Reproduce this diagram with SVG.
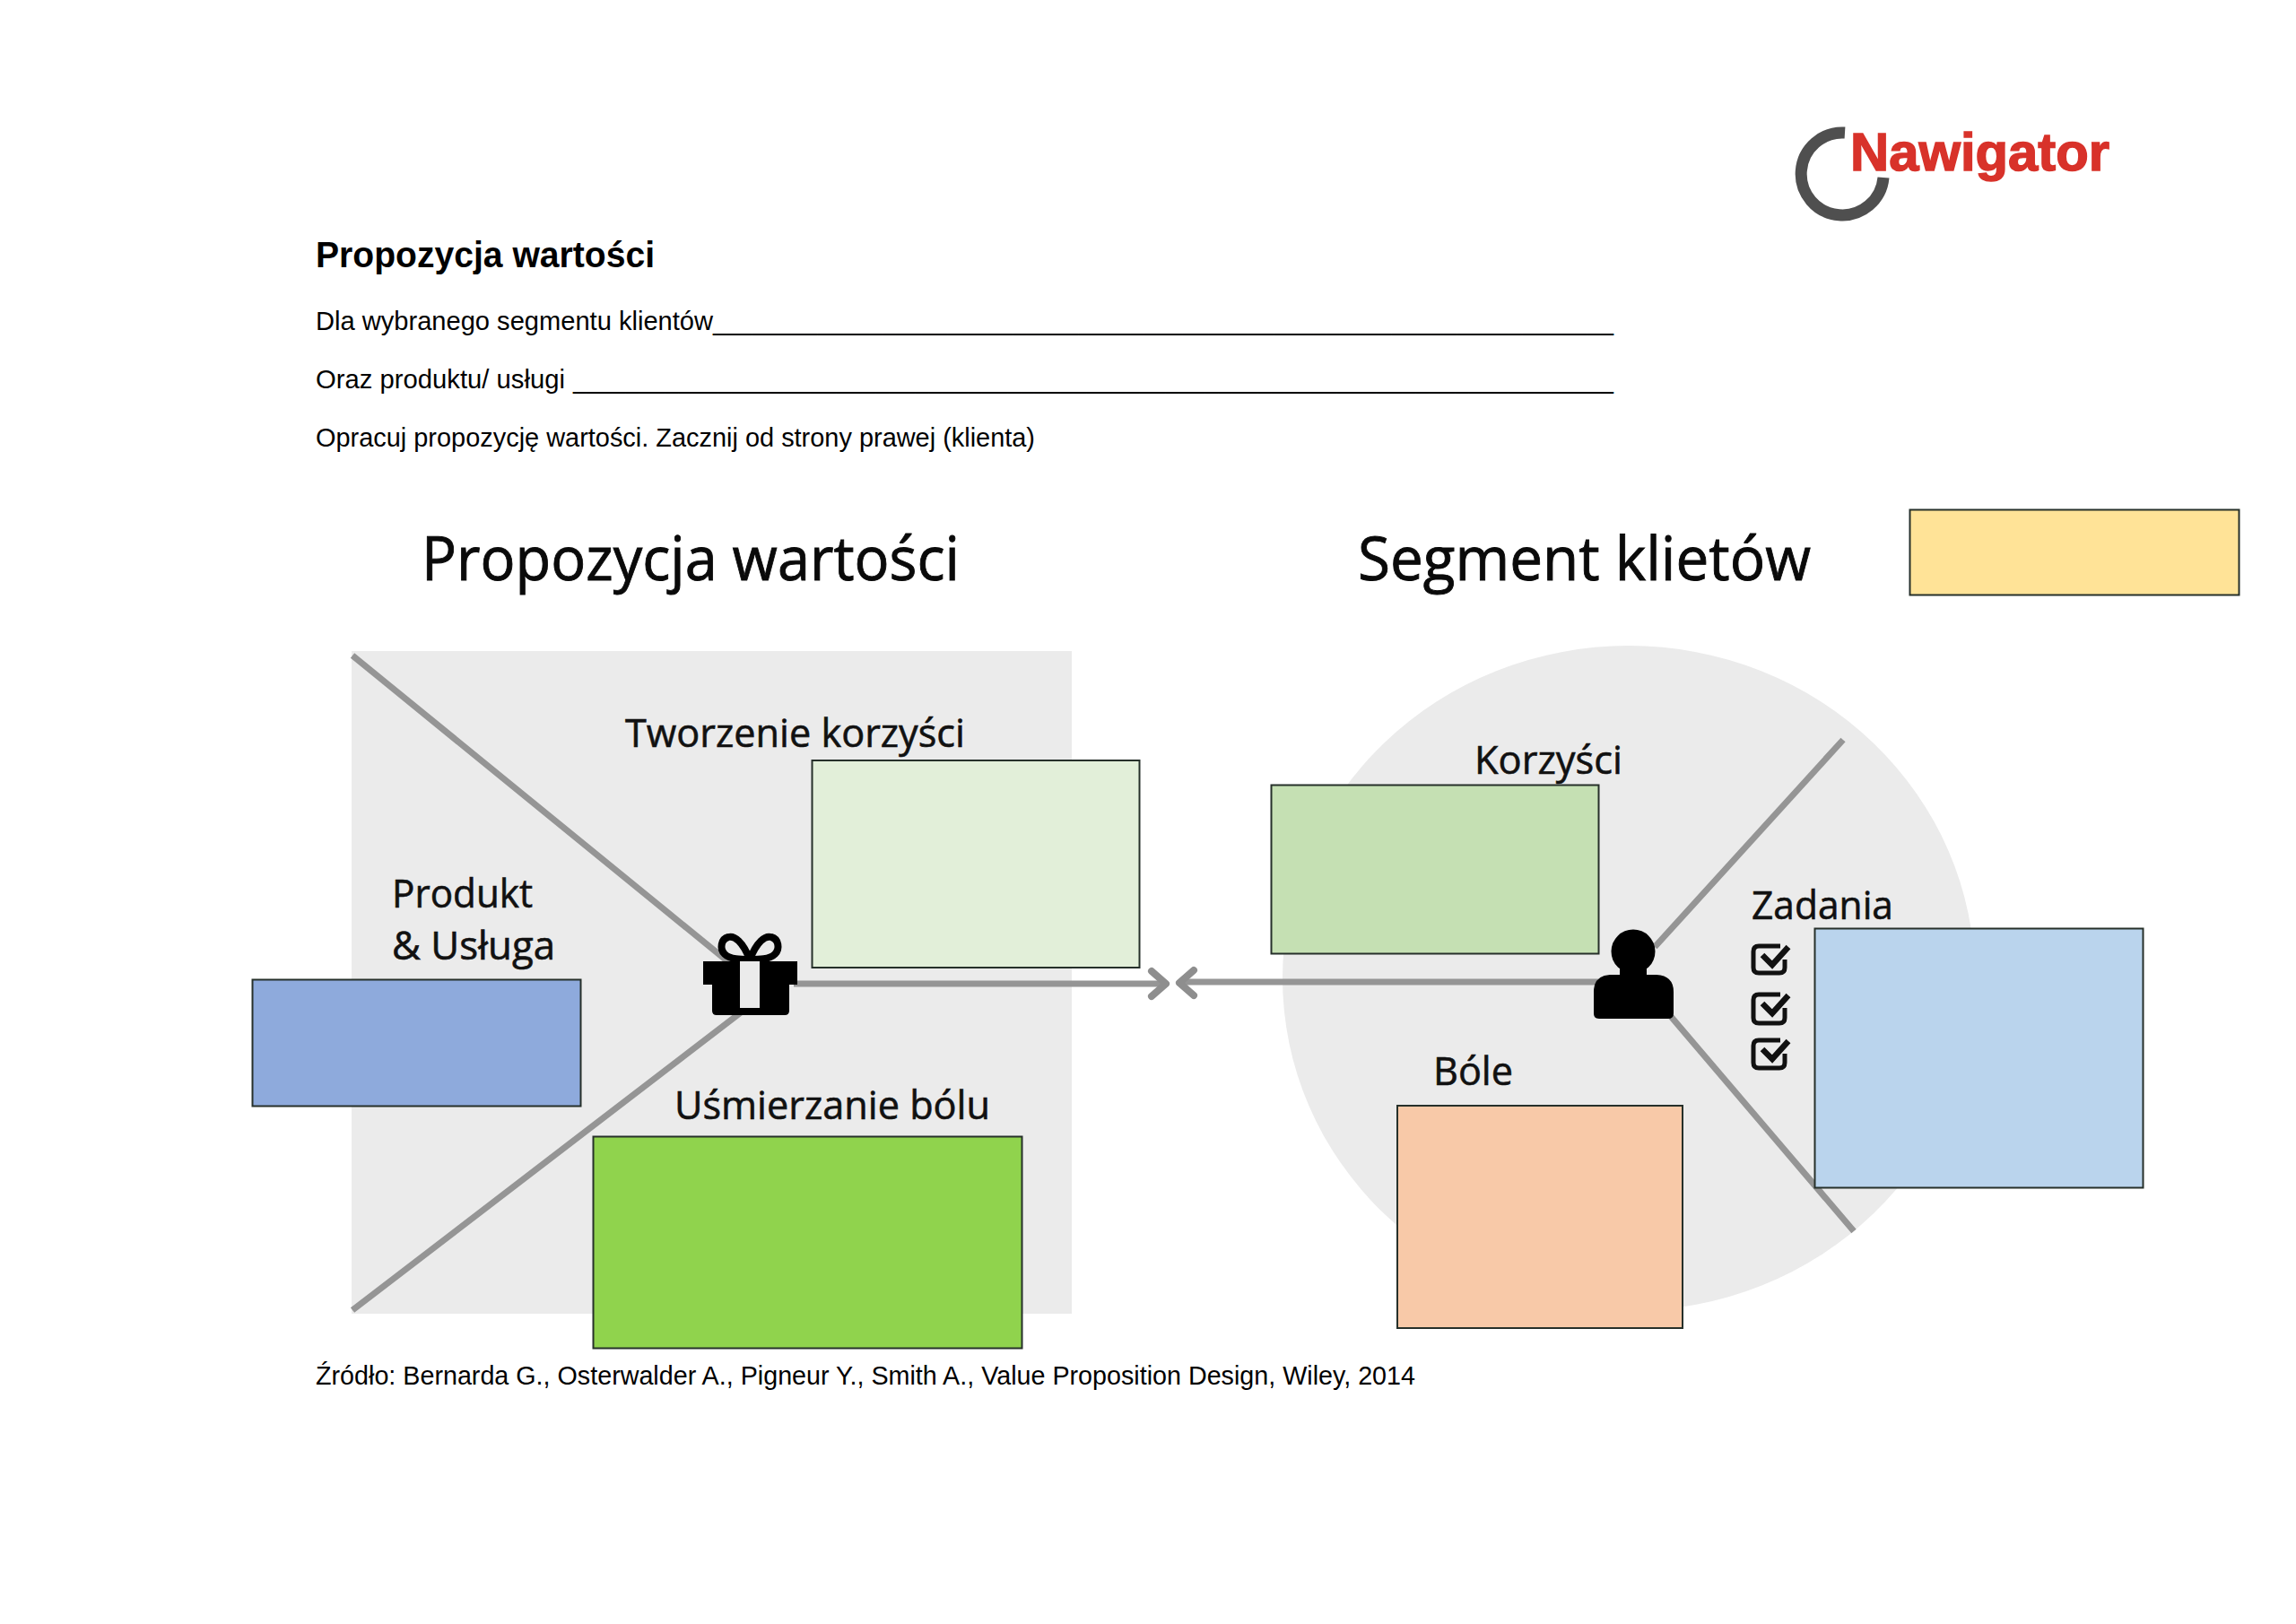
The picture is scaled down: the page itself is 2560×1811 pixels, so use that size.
<svg xmlns="http://www.w3.org/2000/svg" width="2560" height="1811" viewBox="0 0 2560 1811">
<style>
.doc{font-family:"Liberation Sans",Arial,sans-serif;font-size:30px;fill:#000}
.h{font-family:"Open Sans","Liberation Sans",sans-serif;font-size:68px;fill:#0a0a0a;stroke:#0a0a0a;stroke-width:.9px}
.l{font-family:"Open Sans","Liberation Sans",sans-serif;font-size:44px;fill:#111;stroke:#111;stroke-width:.6px}
.box{stroke:#26302a;stroke-width:2}
.ln{stroke:#959595;stroke-width:7;fill:none}
.chev{stroke:#8e8e8e;stroke-width:8;fill:none;stroke-linecap:round;stroke-linejoin:round}
.chk{fill:none;stroke:#111;stroke-width:5}
.tick{fill:none;stroke:#111;stroke-width:6.500}
.bow{fill:none;stroke:#000;stroke-width:8;stroke-linejoin:round}
</style>
<rect width="2560" height="1811" fill="#fff"/>
<g id="logo">
<path d="M2057 148 A46 46 0 1 0 2100 198" fill="none" stroke="#4f4f4f" stroke-width="13"/>
<text x="2063" y="190" font-family="'Liberation Sans',sans-serif" font-weight="700" font-size="60" fill="#d8322a" stroke="#d8322a" stroke-width="1.500" textLength="289" lengthAdjust="spacingAndGlyphs">Nawigator</text>
</g>
<g id="header">
<text x="352" y="298" class="doc" style="font-size:41px;font-weight:700" textLength="378" lengthAdjust="spacingAndGlyphs">Propozycja wartości</text>
<text class="doc" y="368"><tspan x="352" textLength="443" lengthAdjust="spacingAndGlyphs">Dla wybranego segmentu klientów</tspan><tspan x="795" textLength="1004" lengthAdjust="spacingAndGlyphs">_____________________________________________________________________</tspan></text>
<text class="doc" y="433"><tspan x="352" textLength="278" lengthAdjust="spacingAndGlyphs">Oraz produktu/ usługi</tspan><tspan x="639" textLength="1160" lengthAdjust="spacingAndGlyphs">_______________________________________________________________________________</tspan></text>
<text class="doc" y="498" textLength="802" lengthAdjust="spacingAndGlyphs" x="352">Opracuj propozycję wartości. Zacznij od strony prawej (klienta)</text>
</g>
<g id="backgrounds">
<rect x="392" y="726" width="803" height="739" fill="#ebebeb"/>
<ellipse cx="1816" cy="1091" rx="386" ry="371" fill="#ebebeb"/>
</g>
<g id="connectors">
<path class="ln" d="M393 731L815 1075M393 1461L830 1126M2055 825L1845 1056M2067 1373L1860 1130"/>
<path class="ln" d="M885 1097H1296M1790 1095H1320"/>
<path class="chev" d="M1284 1083L1300 1097L1284 1111M1331 1082L1315 1096L1331 1110"/>
</g>
<g id="titles">
<text x="470" y="647" class="h" textLength="600" lengthAdjust="spacingAndGlyphs">Propozycja wartości</text>
<text x="1514" y="647" class="h" textLength="505" lengthAdjust="spacingAndGlyphs">Segment klietów</text>
</g>
<g id="gift">
<path class="bow" d="M836 1070C828 1050 819 1043 812 1045C804 1047 802 1058 808 1064C814 1070 826 1070 836 1070C846 1070 858 1070 864 1064C870 1058 868 1047 860 1045C853 1043 844 1050 836 1070Z"/>
<path d="M784 1072H889V1098H880V1127Q880 1132 875 1132H799Q794 1132 794 1127V1098H784Z" fill="#000"/>
<rect x="825" y="1072" width="22" height="52" fill="#ebebeb"/>
</g>
<g id="person">
<circle cx="1821" cy="1061" r="24.500" fill="#000"/>
<path d="M1806 1080H1836V1087H1847Q1866 1088 1866 1106V1130Q1866 1136 1860 1136H1783Q1777 1136 1777 1130V1106Q1777 1088 1795 1087H1806Z" fill="#000"/>
</g>
<g id="checks">
<g id="check1"><path class="chk" d="M1985 1055H1961Q1955 1055 1955 1061V1079Q1955 1085 1961 1085H1984Q1990 1085 1990 1079V1070"/><path class="tick" d="M1965 1065L1976 1076L1994 1056"/></g>
<g id="check2"><path class="chk" d="M1985 1109H1961Q1955 1109 1955 1115V1135Q1955 1141 1961 1141H1984Q1990 1141 1990 1135V1124"/><path class="tick" d="M1965 1119L1976 1130L1994 1110"/></g>
<g id="check3"><path class="chk" d="M1985 1160H1961Q1955 1160 1955 1166V1185Q1955 1191 1961 1191H1984Q1990 1191 1990 1185V1175"/><path class="tick" d="M1965 1170L1976 1181L1994 1161"/></g>
</g>
<g id="labels">
<text x="697" y="833" class="l" textLength="379" lengthAdjust="spacingAndGlyphs">Tworzenie korzyści</text>
<text x="1644" y="863" class="l" textLength="165" lengthAdjust="spacingAndGlyphs">Korzyści</text>
<text x="437" y="1012" class="l" textLength="157" lengthAdjust="spacingAndGlyphs">Produkt</text>
<text x="437" y="1070" class="l" textLength="182" lengthAdjust="spacingAndGlyphs">&amp; Usługa</text>
<text x="752" y="1248" class="l" textLength="352" lengthAdjust="spacingAndGlyphs">Uśmierzanie bólu</text>
<text x="1598" y="1210" class="l" textLength="89" lengthAdjust="spacingAndGlyphs">Bóle</text>
<text x="1953" y="1025" class="l" textLength="158" lengthAdjust="spacingAndGlyphs">Zadania</text>
</g>
<g id="box-yellow"><rect class="box" x="2129.500" y="568.500" width="367" height="95" fill="#ffe397"/></g>
<g id="box-lightgreen"><rect class="box" x="905.500" y="848" width="365" height="231" fill="#e2efd9"/></g>
<g id="box-blue"><rect class="box" x="281.500" y="1092.500" width="366" height="141" fill="#8eaadc"/></g>
<g id="box-brightgreen"><rect class="box" x="661.500" y="1267.500" width="478" height="236" fill="#90d34d"/></g>
<g id="box-green"><rect class="box" x="1417.500" y="875.500" width="365" height="188" fill="#c5e0b3"/></g>
<g id="box-peach"><rect class="box" x="1558" y="1233" width="318" height="248" fill="#f8c9a8"/></g>
<g id="box-lightblue"><rect class="box" x="2023.500" y="1035.500" width="366" height="289" fill="#bad4ed"/></g>
<g id="source">
<text x="352" y="1544" class="doc" textLength="1226" lengthAdjust="spacingAndGlyphs">Źródło: Bernarda G., Osterwalder A., Pigneur Y., Smith A., Value Proposition Design, Wiley, 2014</text>
</g>
</svg>
